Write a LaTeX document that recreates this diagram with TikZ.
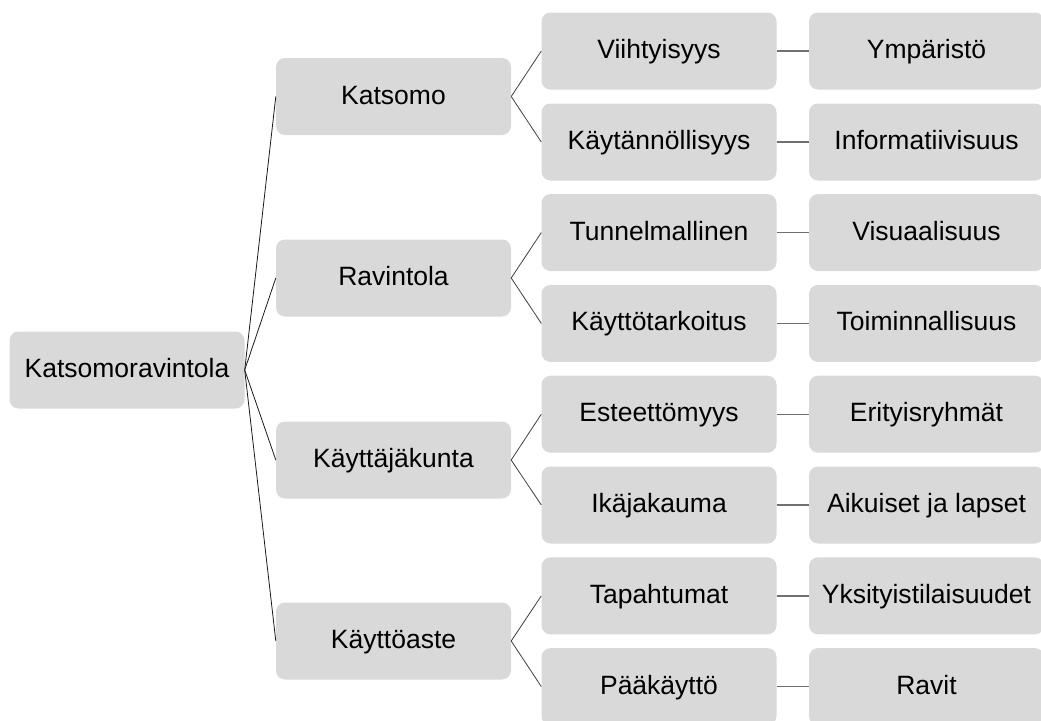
\documentclass[tikz,border=0pt]{standalone}
\usepackage{fontspec}
\setmainfont{Liberation Sans}
\definecolor{boxfill}{HTML}{D9D9D9}
\definecolor{lineA}{HTML}{1A1A1A}
\definecolor{lineB}{HTML}{404040}
\definecolor{lineC}{HTML}{707070}
\begin{document}
\begin{tikzpicture}[x=1pt,y=-1pt,
  box/.style={fill=boxfill, draw=none, rounded corners=9pt, minimum width=235pt, minimum height=77pt, inner sep=0pt, text height=19pt, text depth=4pt, font=\fontsize{26.5}{30}\selectfont, text=black},
  conA/.style={draw=lineA, line width=0.8pt},
  conB/.style={draw=lineB, line width=0.8pt},
  conC/.style={draw=lineC, line width=1.4pt}]
\useasboundingbox (0,0) rectangle (1041,720);
\clip (0,0) rectangle (1041,720);
\node[box] (root) at (127,370) {Katsomoravintola};
\node[box] (k1) at (393.5,96.5) {Katsomo};
\node[box] (k2) at (393.5,278) {Ravintola};
\node[box] (k3) at (393.5,460) {Käyttäjäkunta};
\node[box] (k4) at (393.5,641) {Käyttöaste};
\node[box] (a1) at (659,51) {Viihtyisyys};
\node[box] (a2) at (659,142) {Käytännöllisyys};
\node[box] (a3) at (659,232.6) {Tunnelmallinen};
\node[box] (a4) at (659,323.4) {Käyttötarkoitus};
\node[box] (a5) at (659,414.2) {Esteettömyys};
\node[box] (a6) at (659,505) {Ikäjakauma};
\node[box] (a7) at (659,595.8) {Tapahtumat};
\node[box] (a8) at (659,686.6) {Pääkäyttö};
\node[box] (b1) at (926.5,51) {Ympäristö};
\node[box] (b2) at (926.5,142) {Informatiivisuus};
\node[box] (b3) at (926.5,232.6) {Visuaalisuus};
\node[box] (b4) at (926.5,323.4) {Toiminnallisuus};
\node[box] (b5) at (926.5,414.2) {Erityisryhmät};
\node[box] (b6) at (926.5,505) {Aikuiset ja lapset};
\node[box] (b7) at (926.5,595.8) {Yksityistilaisuudet};
\node[box] (b8) at (926.5,686.6) {Ravit};
\foreach \k in {k1,k2,k3,k4} \draw[conA] (root.east) -- (\k.west);
\draw[conB] (k1.east) -- (a1.west);
\draw[conB] (k1.east) -- (a2.west);
\draw[conB] (k2.east) -- (a3.west);
\draw[conB] (k2.east) -- (a4.west);
\draw[conB] (k3.east) -- (a5.west);
\draw[conB] (k3.east) -- (a6.west);
\draw[conB] (k4.east) -- (a7.west);
\draw[conB] (k4.east) -- (a8.west);
\foreach \i in {1,...,8} \draw[conC] (a\i.east) -- (b\i.west);
\end{tikzpicture}
\end{document}
